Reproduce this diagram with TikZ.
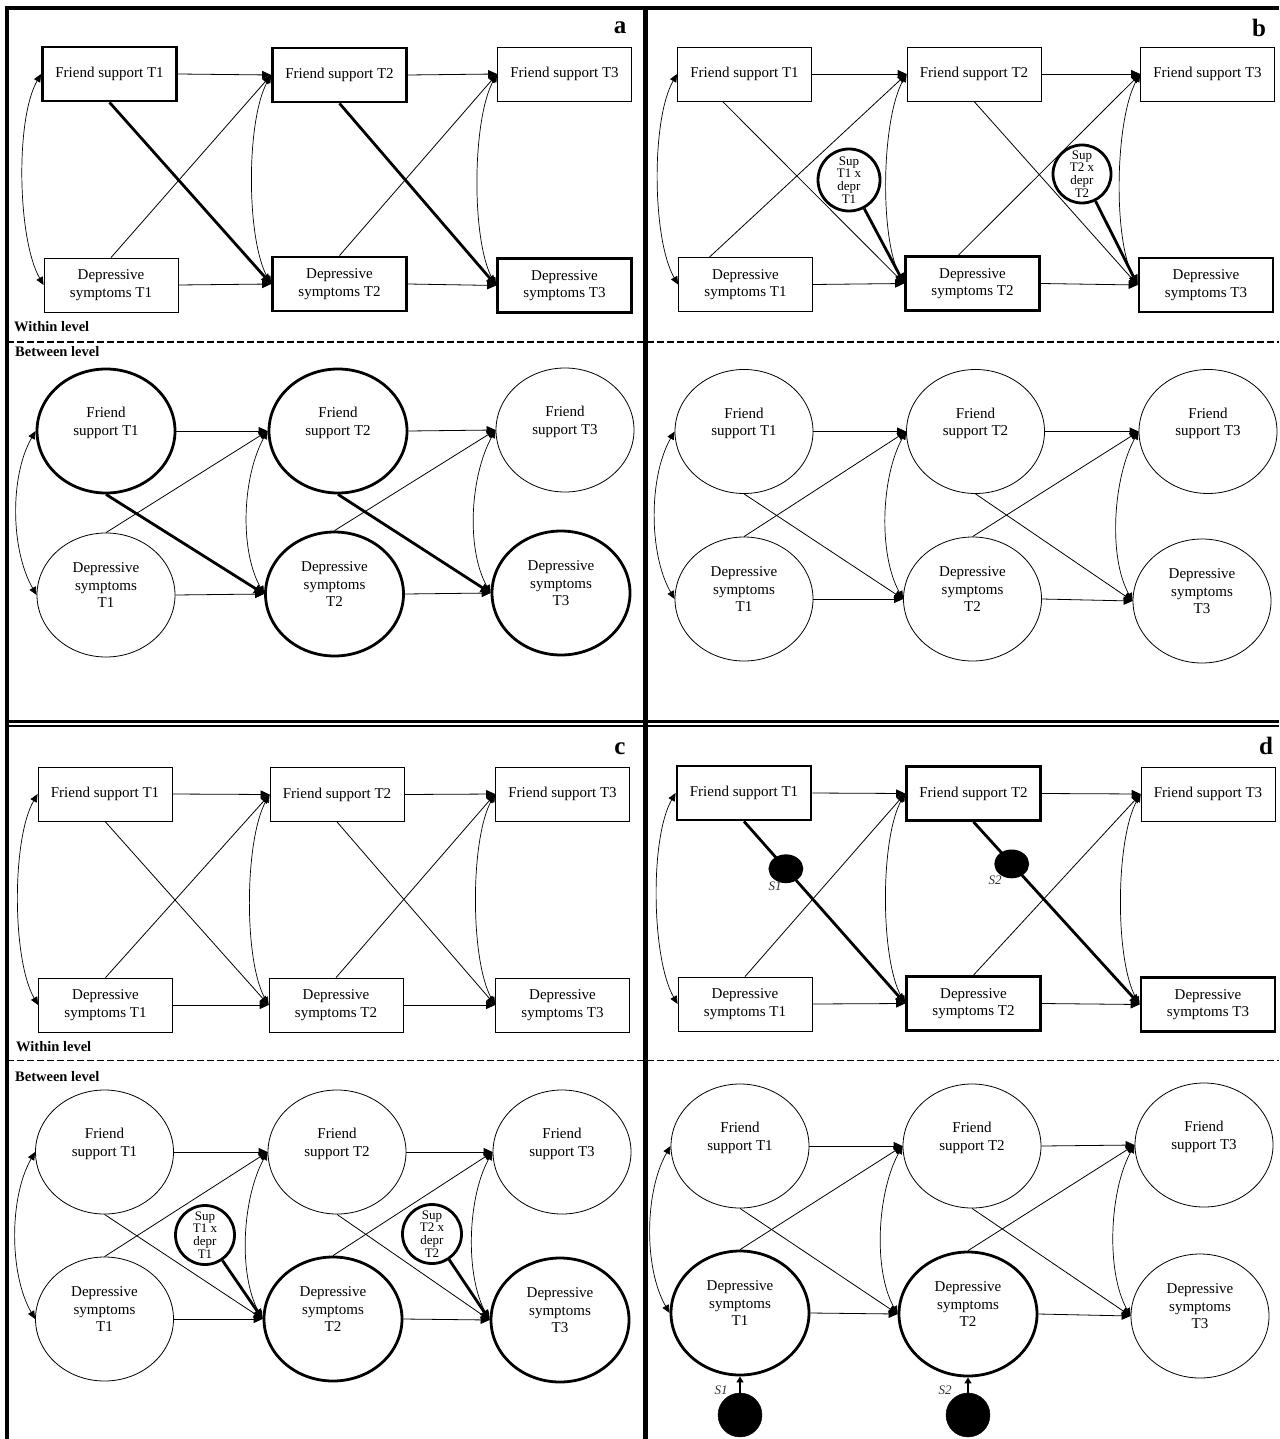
\documentclass[tikz,border=0pt]{standalone}
\usepackage{fontspec}
\setmainfont{Liberation Serif}
\usetikzlibrary{arrows.meta, shapes.geometric, positioning}

\newcommand{\boxfont}{\fontsize{15}{17.5}\selectfont}
\newcommand{\intfont}{\fontsize{13}{12.8}\selectfont}
\newcommand{\lift}{\\[2pt]\mbox{}}

\tikzset{
  ob/.style={draw, line width=0.8pt, minimum width=134pt, minimum height=54pt, inner sep=0pt, align=center, font=\boxfont},
  obthick/.style={ob, line width=2.8pt},
  lat/.style={draw, ellipse, line width=0.8pt, minimum width=138pt, minimum height=124pt, inner sep=0pt, align=center, font=\boxfont},
  latthick/.style={lat, line width=2.8pt},
  inter/.style={draw, circle, line width=2.8pt, minimum size=62pt, inner sep=0pt, align=center, font=\intfont},
  blob/.style={draw, fill, ellipse, minimum width=32pt, minimum height=26pt, inner sep=0pt},
  sblob/.style={draw, fill, circle, minimum size=44pt, inner sep=0pt},
  reg/.style={-{Triangle[length=9pt,width=8pt]}, line width=0.8pt},
  regthick/.style={-{Triangle[length=10pt,width=9pt]}, line width=2.8pt},
  cov/.style={{Triangle[length=8pt,width=7pt]}-{Triangle[length=8pt,width=7pt]}, line width=0.7pt},
  lvl/.style={font=\fontsize{14.5}{14.5}\selectfont\bfseries, anchor=west, inner sep=0pt},
  tag/.style={font=\fontsize{25}{25}\selectfont\bfseries, inner sep=0pt},
  slab/.style={font=\fontsize{13}{13}\selectfont\itshape, text=black!80, inner sep=0pt}
}

\begin{document}
\begin{tikzpicture}[x=1pt, y=-1pt]
	\useasboundingbox (0,0) rectangle (1279,1439);
	% frame
	\draw [line width=4pt] (7,1439) -- (7,8) -- (1279,8);
	\draw [line width=4.5pt] (645.5,8) -- (645.5,1439);
	\draw [line width=2.6pt] (7,721.3) -- (1279,721.3);
	\draw [line width=2.6pt] (7,726) -- (1279,726);
	\draw [line width=1.1pt, dash pattern=on 6.5pt off 3.5pt] (7,342) -- (1279,342);
	\draw [line width=1.1pt, dash pattern=on 6.5pt off 3.5pt] (7,1060.5) -- (1279,1060.5);

	\node[tag] (ta) at (620,28) {a};
	\node[tag] (tb) at (1259,28) {b};
	\node[tag] (tc) at (620,749) {c};
	\node[tag] (td) at (1266,746) {d};
	\node[lvl] (aw) at (14,327) {Within level};
	\node[lvl] (ab) at (15,352) {Between level};
	\node[lvl] (cw) at (16,1047) {Within level};
	\node[lvl] (cb) at (15,1077) {Between level};

	% panel a
	\foreach \n/\s/\x/\y/\t in {
		aWF1/obthick/109.5/74/{Friend support T1},
		aWF2/obthick/339.5/75/{Friend support T2},
		aWF3/ob/564.5/74/{Friend support T3},
		aWD1/ob/111/285/{Depressive\\symptoms T1},
		aWD2/obthick/339.5/284/{Depressive\\symptoms T2},
		aWD3/obthick/564.5/285.5/{Depressive\\symptoms T3},
		aBF1/latthick/106/431/{Friend\\support T1\lift},
		aBF2/latthick/338/431/{Friend\\support T2\lift},
		aBF3/lat/565/430/{Friend\\support T3\lift},
		aBD1/lat/106/595/{Depressive\\symptoms\\T1\lift},
		aBD2/latthick/334.5/594/{Depressive\\symptoms\\T2\lift},
		aBD3/latthick/561/593/{Depressive\\symptoms\\T3\lift}}
		\node[\s] (\n) at (\x,\y) {\t};

	% panel b
	\foreach \n/\s/\x/\y/\t in {
		bWF1/ob/744.5/74/{Friend support T1},
		bWF2/ob/974/74/{Friend support T2},
		bWF3/ob/1207.5/74/{Friend support T3},
		bWD1/ob/745.5/284.5/{Depressive\\symptoms T1},
		bWD2/obthick/972.5/283.5/{Depressive\\symptoms T2},
		bWD3/obthick/1206/285/{Depressive\\symptoms T3},
		bBF1/lat/744/431.5/{Friend\\support T1\lift},
		bBF2/lat/975.5/431.5/{Friend\\support T2\lift},
		bBF3/lat/1208/431.5/{Friend\\support T3\lift},
		bBD1/lat/744/599/{Depressive\\symptoms\\T1\lift},
		bBD2/lat/972.5/599/{Depressive\\symptoms\\T2\lift},
		bBD3/lat/1202/601/{Depressive\\symptoms\\T3\lift}}
		\node[\s] (\n) at (\x,\y) {\t};
	\node[inter] (bI1) at (849,180) {Sup\\T1 x\\depr\\T1};
	\node[inter, minimum size=58pt] (bI2) at (1082,174) {Sup\\T2 x\\depr\\T2};

	% panel c
	\foreach \n/\s/\x/\y/\t in {
		cWF1/ob/105/794/{Friend support T1},
		cWF2/ob/337/794.5/{Friend support T2},
		cWF3/ob/562.5/794/{Friend support T3},
		cWD1/ob/105.5/1005/{Depressive\\symptoms T1},
		cWD2/ob/336/1005/{Depressive\\symptoms T2},
		cWD3/ob/562.5/1005/{Depressive\\symptoms T3},
		cBF1/lat/104.5/1152/{Friend\\support T1\lift},
		cBF2/lat/337/1152/{Friend\\support T2\lift},
		cBF3/lat/562/1152/{Friend\\support T3\lift},
		cBD1/lat/104.5/1319/{Depressive\\symptoms\\T1\lift},
		cBD2/latthick/333/1319/{Depressive\\symptoms\\T2\lift},
		cBD3/latthick/560/1320/{Depressive\\symptoms\\T3\lift}}
		\node[\s] (\n) at (\x,\y) {\t};
	\node[inter, minimum size=59pt] (cI1) at (205,1235) {Sup\\T1 x\\depr\\T1};
	\node[inter, minimum size=59pt] (cI2) at (432,1234) {Sup\\T2 x\\depr\\T2};

	% panel d
	\foreach \n/\s/\x/\y/\t in {
		dWF1/obthick/744/793/{Friend support T1},
		dWF2/obthick/973.5/793.5/{Friend support T2},
		dWF3/ob/1208/794/{Friend support T3},
		dWD1/ob/745/1004/{Depressive\\symptoms T1},
		dWD2/obthick/973.5/1003.5/{Depressive\\symptoms T2},
		dWD3/obthick/1208/1004.5/{Depressive\\symptoms T3},
		dBF1/lat/740/1146/{Friend\\support T1\lift},
		dBF2/lat/972/1146/{Friend\\support T2\lift},
		dBF3/lat/1204/1145/{Friend\\support T3\lift},
		dBD1/latthick/740/1313/{Depressive\\symptoms\\T1\lift},
		dBD2/latthick/968/1314/{Depressive\\symptoms\\T2\lift},
		dBD3/lat/1200/1316/{Depressive\\symptoms\\T3\lift}}
		\node[\s] (\n) at (\x,\y) {\t};
	\node[sblob] (dE1) at (740,1415) {};
	\node[sblob] (dE2) at (968,1415) {};

	% paths shared by every level
	\foreach \p in {aW,aB,bW,bB,cW,cB,dW,dB}{
		\draw[reg] (\p F1.east) -- (\p F2.west);
		\draw[reg] (\p F2.east) -- (\p F3.west);
		\draw[reg] (\p D1.east) -- (\p D2.west);
		\draw[reg] (\p D2.east) -- (\p D3.west);
		\draw[cov] (\p F1.west) .. controls +(-26,45) and +(-26,-45) .. (\p D1.west);
		\draw[cov] (\p F2.west) .. controls +(-25,45) and +(-25,-45) .. (\p D2.west);
		\draw[cov] (\p F3.west) .. controls +(-25,45) and +(-25,-45) .. (\p D3.west);
	}
	\foreach \p in {aW,aB,dW}{
		\draw[reg] (\p D1.north) -- (\p F2.west);
		\draw[reg] (\p D2.north) -- (\p F3.west);
	}
	\foreach \p in {aW,aB}{
		\draw[regthick] (\p F1.south) -- (\p D2.west);
		\draw[regthick] (\p F2.south) -- (\p D3.west);
	}
	\foreach \p in {bB,cW,cB,dB}{
		\draw[reg] (\p F1.south) -- (\p D2.west);
		\draw[reg] (\p F2.south) -- (\p D3.west);
		\draw[reg] (\p D1.north) -- (\p F2.west);
		\draw[reg] (\p D2.north) -- (\p F3.west);
	}

	% panel b, within
	\draw[reg] ([xshift=-22pt]bWF1.south) -- (bWD2.west);
	\draw[reg] (bWF2.south) -- (bWD3.west);
	\draw[reg] ([xshift=-36pt]bWD1.north) -- (bWF2.west);
	\draw[reg] ([xshift=-14pt]bWD2.north) -- (bWF3.west);
	\draw[regthick] (bI1) -- (bWD2.west);
	\draw[regthick] (bI2) -- (bWD3.west);

	% panel c, between
	\draw[regthick] (cI1) -- (cBD2.west);
	\draw[regthick] (cI2) -- (cBD3.west);

	% panel d
	\draw[regthick] (dWF1.south) -- node[blob, pos=0.26] (dS1) {} (dWD2.west);
	\draw[regthick] (dWF2.south) -- node[blob, pos=0.23] (dS2) {} (dWD3.west);
	\node[slab] (dS1t) at (775,886) {S1};
	\node[slab] (dS2t) at (995,880) {S2};
	\draw[-{Triangle[length=6pt,width=7pt]}, line width=2.8pt] (dE1) -- (dBD1.south);
	\draw[-{Triangle[length=6pt,width=7pt]}, line width=2.8pt] (dE2) -- (dBD2.south);
	\node[slab] (dE1t) at (721,1390) {S1};
	\node[slab] (dE2t) at (945,1390) {S2};
\end{tikzpicture}
\end{document}
